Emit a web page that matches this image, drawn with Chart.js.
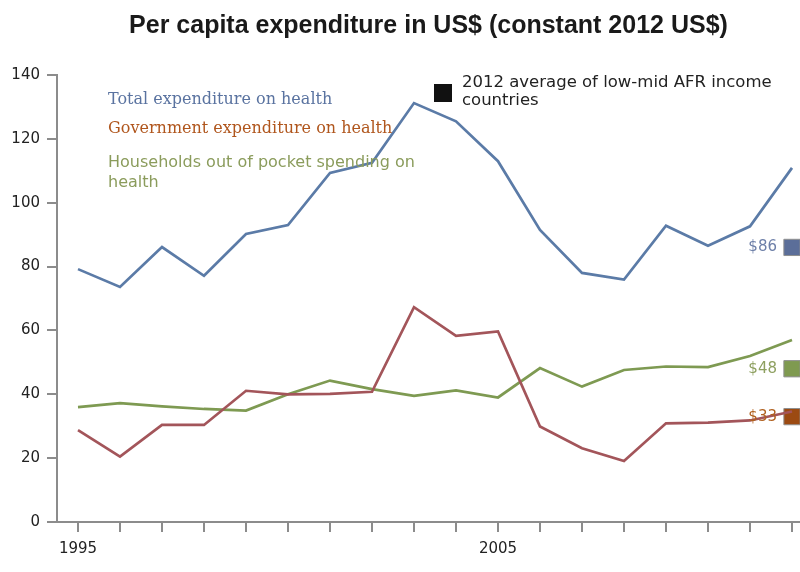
<!DOCTYPE html>
<html>
<head>
<meta charset="utf-8">
<script src="https://cdn.jsdelivr.net/npm/chart.js@4/dist/chart.umd.min.js"></script>
<style>
  html, body { margin: 0; padding: 0; background: #fff; }
  #wrap { width: 800px; height: 572px; }
</style>
</head>
<body>
<div id="wrap"><canvas id="chart1"></canvas></div>
<script>
var years = [1995, 1996, 1997, 1998, 1999, 2000, 2001, 2002, 2003, 2004, 2005, 2006, 2007, 2008, 2009, 2010, 2011, 2012];
var labeledYears = [1995, 2005];
var yTicks = [0, 20, 40, 60, 80, 100, 120, 140];

var totalHealth = [79.2, 73.6, 86.1, 77.1, 90.2, 93.0, 109.3, 112.5, 131.2, 125.5, 113.0, 91.5, 78.0, 75.9, 92.8, 86.5, 92.6, 110.9];
var govHealth = [28.8, 20.5, 30.4, 30.4, 41.1, 40.0, 40.1, 40.8, 67.3, 58.3, 59.7, 29.9, 23.1, 19.1, 30.9, 31.1, 31.8, 34.6];
var oopHealth = [36.0, 37.2, 36.2, 35.4, 34.9, 40.0, 44.3, 41.6, 39.5, 41.2, 39.0, 48.2, 42.4, 47.6, 48.7, 48.5, 52.0, 57.0];

// 2012 averages for low-mid income AFR countries
var avgYear = 2012;
var avgTotal = 86;
var avgGov = 33;
var avgOop = 48;

function toPoints(values) {
  return values.map(function (v, i) { return { x: years[i], y: v }; });
}

function avgMarker(value, color, labelColor) {
  return {
    data: [{ x: avgYear, y: value }],
    showLine: false,
    pointStyle: 'rect',
    pointRadius: 11.5,
    pointBackgroundColor: color,
    pointBorderColor: '#8f8f8f',
    pointBorderWidth: 1,
    avgLabel: '$' + value,
    labelColor: labelColor
  };
}

var notes = {
  id: 'notes',
  afterDatasetsDraw: function (chart) {
    var ctx = chart.ctx;
    var y = chart.scales.y;
    ctx.save();
    ctx.textBaseline = 'middle';
    ctx.textAlign = 'left';

    ctx.font = '16px "DejaVu Serif"';
    ctx.fillStyle = '#5a73a0';
    ctx.fillText('Total expenditure on health', 108, 100);
    ctx.fillStyle = '#b0561d';
    ctx.fillText('Government expenditure on health', 108, 129);

    ctx.font = '16px "DejaVu Sans"';
    ctx.fillStyle = '#8b9c5c';
    ctx.fillText('Households out of pocket spending on', 108, 163);
    ctx.fillText('health', 108, 183);

    ctx.fillStyle = '#111';
    ctx.fillRect(434, 84, 18, 18);
    ctx.font = '16.5px "DejaVu Sans"';
    ctx.fillStyle = '#222';
    ctx.fillText('2012 average of low-mid AFR income', 462, 83);
    ctx.fillText('countries', 462, 101);

    // value labels next to the 2012 average squares
    ctx.font = '15px "DejaVu Sans"';
    ctx.textAlign = 'right';
    chart.data.datasets.forEach(function (ds) {
      if (!ds.avgLabel) return;
      ctx.fillStyle = ds.labelColor;
      ctx.fillText(ds.avgLabel, 777, y.getPixelForValue(ds.data[0].y));
    });
    ctx.restore();
  }
};

new Chart(document.getElementById('chart1'), {
  type: 'line',
  data: {
    datasets: [
      { data: toPoints(totalHealth), borderColor: '#5b7ba7', borderWidth: 2.7, pointRadius: 0, tension: 0 },
      { data: toPoints(govHealth), borderColor: '#a3555a', borderWidth: 2.7, pointRadius: 0, tension: 0 },
      { data: toPoints(oopHealth), borderColor: '#7e9a52', borderWidth: 2.7, pointRadius: 0, tension: 0 },
      avgMarker(avgTotal, '#5b6e99', '#6d7fa8'),
      avgMarker(avgOop, '#7f9a50', '#8ea060'),
      avgMarker(avgGov, '#9c4a12', '#b0601e')
    ]
  },
  options: {
    responsive: true,
    maintainAspectRatio: false,
    animation: false,
    events: [],
    layout: { autoPadding: false, padding: 0 },
    plugins: {
      legend: { display: false },
      tooltip: { enabled: false },
      title: {
        display: true,
        fullSize: false,
        text: 'Per capita expenditure in US$ (constant 2012 US$)',
        color: '#1a1a1a',
        font: { family: '"Liberation Sans", Arial, sans-serif', size: 25, weight: 'bold', lineHeight: 1.2 },
        padding: { top: 11, bottom: 34 }
      }
    },
    scales: {
      x: {
        type: 'linear',
        min: 1994.5,
        max: 2012.19,
        afterBuildTicks: function (scale) {
          scale.ticks = years.map(function (v) { return { value: v }; });
        },
        afterFit: function (scale) { scale.height = 50; },
        ticks: {
          autoSkip: false,
          maxRotation: 0,
          padding: 8,
          color: '#222',
          font: { family: '"DejaVu Sans"', size: 15 },
          callback: function (v) { return labeledYears.indexOf(v) >= 0 ? String(v) : ''; }
        },
        grid: { drawOnChartArea: false, tickLength: 10, color: '#8c8c8c', lineWidth: 2 },
        border: { color: '#8c8c8c', width: 2 }
      },
      y: {
        min: 0,
        max: 140,
        afterBuildTicks: function (scale) {
          scale.ticks = yTicks.map(function (v) { return { value: v }; });
        },
        afterFit: function (scale) { scale.width = 57; },
        ticks: {
          padding: 7,
          color: '#222',
          font: { family: '"DejaVu Sans"', size: 15 }
        },
        grid: { drawOnChartArea: false, tickLength: 10, color: '#8c8c8c', lineWidth: 2 },
        border: { color: '#8c8c8c', width: 2 }
      }
    }
  },
  plugins: [notes]
});
</script>
</body>
</html>
